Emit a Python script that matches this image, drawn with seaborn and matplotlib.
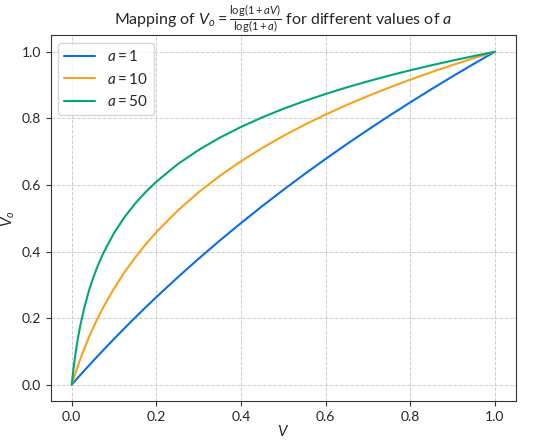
import matplotlib
matplotlib.use("Agg")
import matplotlib.pyplot as plt
import seaborn as sns
import pandas as pd

# values
v = [0, 0.0025, 0.005, 0.01, 0.015, 0.02, 0.03, 0.04, 0.05, 0.06, 0.075,
     0.1, 0.125, 0.15, 0.175, 0.2, 0.25, 0.3, 0.35, 0.4, 0.45, 0.5, 0.55,
     0.6, 0.65, 0.7, 0.75, 0.8, 0.85, 0.9, 0.95, 1.0]
vo_a1 = [0, 0.0036, 0.0072, 0.0144, 0.0215, 0.0286, 0.0426, 0.0566, 0.0704,
         0.0841, 0.1043, 0.1375, 0.1699, 0.2016, 0.2327, 0.263, 0.3219,
         0.3785, 0.4330, 0.4854, 0.5361, 0.585, 0.6323, 0.678, 0.7225,
         0.7655, 0.8074, 0.848, 0.8875, 0.926, 0.9635, 1.0]
vo_a10 = [0, 0.0103, 0.0203, 0.0397, 0.0583, 0.0760, 0.1094, 0.1403, 0.1691,
          0.1960, 0.2334, 0.2891, 0.3382, 0.3821, 0.4219, 0.4582, 0.5224,
          0.5781, 0.6272, 0.6712, 0.7109, 0.7472, 0.7806, 0.8115, 0.8403,
          0.8672, 0.8925, 0.9163, 0.9389, 0.9603, 0.9806, 1.0]
vo_a50 = [0, 0.0300, 0.0568, 0.1031, 0.1423, 0.1763, 0.2330, 0.2794, 0.3186,
          0.3526, 0.3963, 0.4557, 0.5038, 0.5443, 0.5792, 0.6099, 0.6620,
          0.7052, 0.7421, 0.7743, 0.8029, 0.8287, 0.8520, 0.8734, 0.8931,
          0.9114, 0.9285, 0.9445, 0.9595, 0.9738, 0.9872, 1.0]
labels = ["$a = 1$", "$a = 10$", "$a = 50$"]
colors = ["#0a6de6", "#f7a21b", "#00a67a"]

df = pd.concat([
    pd.DataFrame({"V": v, "Vo": vals, "a": lab})
    for vals, lab in zip([vo_a1, vo_a10, vo_a50], labels)
])

sns.set_style("ticks")
plt.rcParams["font.family"] = ["Lato", "DejaVu Sans"]
plt.rcParams["mathtext.fontset"] = "custom"
plt.rcParams["mathtext.rm"] = "Lato"
plt.rcParams["mathtext.it"] = "Lato:italic"

fig, ax = plt.subplots(figsize=(5.5, 4.4), dpi=100)
fig.subplots_adjust(left=0.092, right=0.938, top=0.92, bottom=0.088)
sns.lineplot(data=df, x="V", y="Vo", hue="a", palette=colors, lw=1.5,
             ax=ax, sort=False)

ax.set_title(r"Mapping of $V_o = \frac{\log(1 + aV)}{\log(1 + a)}$ for different values of $a$",
             fontsize=11.5, pad=5)
ax.set_xlabel("$V$", fontsize=11, labelpad=1)
ax.set_ylabel("$V_o$", fontsize=11, labelpad=3)
ax.grid(True, linestyle="--", color="#cccccc", lw=0.7)
ax.tick_params(labelsize=10, color="#333333")
for s in ax.spines.values():
    s.set_color("#333333")
ax.legend(title=None, loc="upper left", fontsize=11, frameon=True)

fig.savefig("out.png")
